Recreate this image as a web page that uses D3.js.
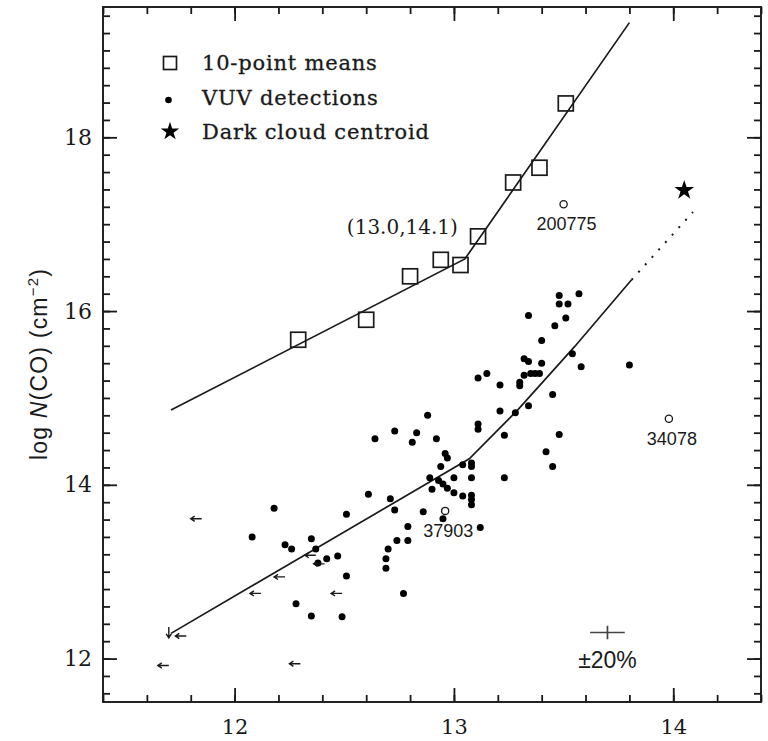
<!DOCTYPE html>
<html>
<head>
<meta charset="utf-8">
<script src="https://cdn.jsdelivr.net/npm/d3@7"></script>
<style>
  body { margin: 0; background: #fff; }
  svg { display: block; }
</style>
</head>
<body>
<div id="chart"></div>
<script>
// 10-point means (open squares)
const meanX = [12.29, 12.60, 12.80, 12.94, 13.03, 13.11, 13.27, 13.39, 13.51];
const meanY = [15.67, 15.90, 16.40, 16.59, 16.53, 16.86, 17.48, 17.65, 18.39];

// VUV detections (filled dots)
const vuvX = [13.48, 13.57, 13.48, 13.52, 13.34, 13.51, 13.46, 13.40, 13.54, 13.32,
  13.34, 13.40, 13.58, 13.80, 13.11, 13.15, 13.32, 13.35, 13.37, 13.39,
  13.30, 13.30, 13.21, 13.45, 13.21, 13.28, 13.34, 13.11, 13.11, 13.23,
  13.48, 13.42, 13.45, 12.73, 12.88, 12.83, 12.81, 12.92, 12.64, 12.96,
  12.97, 12.94, 13.04, 13.08, 13.08, 12.89, 12.93, 12.95, 12.97, 13.00,
  13.00, 13.08, 12.90, 13.04, 13.08, 13.08, 13.08, 13.23, 12.71, 12.73,
  12.86, 12.95, 12.79, 12.74, 12.79, 13.12, 12.70, 12.69, 12.69, 12.61,
  12.18, 12.51, 12.08, 12.23, 12.26, 12.35, 12.37, 12.47, 12.42, 12.38,
  12.51, 12.77, 12.28, 12.35, 12.49];
const vuvY = [16.18, 16.20, 16.08, 16.08, 15.95, 15.92, 15.83, 15.66, 15.51, 15.45,
  15.42, 15.40, 15.36, 15.38, 15.23, 15.28, 15.26, 15.28, 15.28, 15.28,
  15.18, 15.14, 15.15, 15.04, 14.85, 14.83, 14.91, 14.70, 14.64, 14.57,
  14.58, 14.38, 14.21, 14.62, 14.80, 14.60, 14.49, 14.53, 14.53, 14.36,
  14.31, 14.21, 14.23, 14.25, 14.21, 14.08, 14.05, 14.01, 13.96, 13.91,
  14.08, 14.08, 13.95, 13.87, 13.88, 13.83, 13.77, 14.08, 13.84, 13.71,
  13.69, 13.61, 13.52, 13.36, 13.36, 13.51, 13.26, 13.15, 13.04, 13.89,
  13.73, 13.66, 13.40, 13.31, 13.26, 13.38, 13.26, 13.18, 13.15, 13.10,
  12.95, 12.75, 12.63, 12.49, 12.48];

// upper limits in x (left arrows) and the one limit in y (down arrow)
const limitX = [11.85, 12.37, 12.41, 12.23, 12.12, 12.49, 11.78, 11.70, 12.30];
const limitY = [13.61, 13.19, 13.09, 12.94, 12.75, 12.75, 12.26, 11.92, 11.94];
const downLimitX = [11.70];
const downLimitY = [12.33];

// dark cloud centroid
const starX = [14.05];
const starY = [17.39];

// labelled stars (open circles)
const outlierNames = ["200775", "34078", "37903"];
const outlierX = [13.50, 13.98, 12.96];
const outlierY = [17.23, 14.76, 13.70];

// fitted relations
const upperFitX = [11.71, 13.05, 13.80];
const upperFitY = [14.86, 16.60, 19.32];
const lowerFitX = [11.71, 13.07, 13.29, 13.55, 13.81];
const lowerFitY = [12.29, 14.30, 14.86, 15.59, 16.36];
const extrapX = [13.81, 14.09];
const extrapY = [16.36, 17.14];

// typical error (+-20%)
const errX = 13.70, errY = 12.30, errHalf = 0.079;

const xMajor = [12, 13, 14];
const yMajor = [12, 14, 16, 18];
const xMinor = d3.range(11.4, 14.401, 0.2).map(v => +v.toFixed(1));
const yMinor = d3.range(11.6, 19.401, 0.2).map(v => +v.toFixed(1));

const legendItems = ["10-point means", "VUV detections", "Dark cloud centroid"];

const width = 768, height = 741;
const margin = { top: 7, right: 7, bottom: 39, left: 103 };
const iw = width - margin.left - margin.right;
const ih = height - margin.top - margin.bottom;

const x = d3.scaleLinear().domain([11.4, 14.4]).range([0, iw]);
const y = d3.scaleLinear().domain([11.5, 19.5]).range([ih, 0]);

const svg = d3.select('#chart').append('svg')
  .attr('width', width)
  .attr('height', height);

svg.append('rect').attr('width', width).attr('height', height).attr('fill', '#fff');

const g = svg.append('g').attr('transform', `translate(${margin.left},${margin.top})`);

const serif = '"DejaVu Serif", serif';
const sans = '"Liberation Sans", Arial, sans-serif';
const ink = '#1a1a1a';

// ticks on all four sides, pointing inward
function ticks(axisFn, scale, vals, size, transform) {
  const a = g.append('g')
    .attr('transform', transform)
    .call(axisFn(scale).tickValues(vals).tickSize(size).tickSizeOuter(0).tickFormat(''));
  a.select('.domain').remove();
  a.selectAll('line').attr('stroke', ink).attr('stroke-width', 1.8);
  return a;
}
ticks(d3.axisBottom, x, xMinor, -7, `translate(0,${ih})`);
ticks(d3.axisBottom, x, xMajor, -14, `translate(0,${ih})`);
ticks(d3.axisTop, x, xMinor, -7, 'translate(0,0)');
ticks(d3.axisTop, x, xMajor, -14, 'translate(0,0)');
ticks(d3.axisLeft, y, yMinor, -7, 'translate(0,0)');
ticks(d3.axisLeft, y, yMajor, -14, 'translate(0,0)');
ticks(d3.axisRight, y, yMinor, -7, `translate(${iw},0)`);
ticks(d3.axisRight, y, yMajor, -14, `translate(${iw},0)`);

// tick labels
const xl = g.append('g')
  .attr('transform', `translate(0,${ih})`)
  .call(d3.axisBottom(x).tickValues(xMajor).tickSize(0).tickPadding(17).tickFormat(d3.format('d')));
xl.select('.domain').remove();
xl.selectAll('text').attr('font-family', serif).attr('font-size', 21).attr('fill', ink);

const yl = g.append('g')
  .call(d3.axisLeft(y).tickValues(yMajor).tickSize(0).tickPadding(11).tickFormat(d3.format('d')));
yl.select('.domain').remove();
yl.selectAll('text').attr('font-family', serif).attr('font-size', 22).attr('fill', ink);

// frame
g.append('rect')
  .attr('width', iw).attr('height', ih)
  .attr('fill', 'none').attr('stroke', ink).attr('stroke-width', 1.9);

// y axis title
const yt = svg.append('text')
  .attr('transform', `translate(47,${364}) rotate(-90)`)
  .attr('text-anchor', 'middle')
  .attr('font-family', sans)
  .attr('font-size', 23)
  .attr('letter-spacing', 1.2)
  .attr('fill', ink);
yt.append('tspan').text('log ');
yt.append('tspan').attr('font-style', 'italic').text('N');
yt.append('tspan').text('(CO)  (cm');
yt.append('tspan').attr('font-size', 15).attr('dy', -9).text('−2');
yt.append('tspan').attr('dy', 9).text(')');

// fitted lines
const line = d3.line().x(d => x(d[0])).y(d => y(d[1]));
g.append('path')
  .datum(d3.zip(upperFitX, upperFitY))
  .attr('d', line).attr('fill', 'none').attr('stroke', ink).attr('stroke-width', 1.7);
g.append('path')
  .datum(d3.zip(lowerFitX, lowerFitY))
  .attr('d', line).attr('fill', 'none').attr('stroke', ink).attr('stroke-width', 1.7);
g.append('path')
  .datum(d3.zip(extrapX, extrapY))
  .attr('d', line).attr('fill', 'none').attr('stroke', ink).attr('stroke-width', 2)
  .attr('stroke-dasharray', '2,8');

// 10-point means
const sq = 15;
g.selectAll('.mean')
  .data(d3.zip(meanX, meanY))
  .enter().append('rect')
  .attr('class', 'mean')
  .attr('x', d => x(d[0]) - sq / 2)
  .attr('y', d => y(d[1]) - sq / 2)
  .attr('width', sq).attr('height', sq)
  .attr('fill', 'none').attr('stroke', ink).attr('stroke-width', 1.7);

// VUV detections
g.selectAll('.dot')
  .data(d3.zip(vuvX, vuvY))
  .enter().append('circle')
  .attr('class', 'dot')
  .attr('cx', d => x(d[0]))
  .attr('cy', d => y(d[1]))
  .attr('r', 3.5)
  .attr('fill', '#000');

// upper limits
g.selectAll('.limit')
  .data(d3.zip(limitX, limitY))
  .enter().append('path')
  .attr('class', 'limit')
  .attr('d', d => {
    const px = x(d[0]), py = y(d[1]);
    return `M${px},${py}H${px - 11}M${px - 7},${py - 2.6}L${px - 11},${py}L${px - 7},${py + 2.6}`;
  })
  .attr('fill', 'none').attr('stroke', ink).attr('stroke-width', 1.4);
g.selectAll('.dlimit')
  .data(d3.zip(downLimitX, downLimitY))
  .enter().append('path')
  .attr('class', 'dlimit')
  .attr('d', d => {
    const px = x(d[0]), py = y(d[1]);
    return `M${px},${py - 3}V${py + 8}M${px - 2.6},${py + 4}L${px},${py + 8}L${px + 2.6},${py + 4}`;
  })
  .attr('fill', 'none').attr('stroke', ink).attr('stroke-width', 1.4);

// open circles with HD numbers
const outliers = outlierNames.map((n, i) => ({ name: n, x: outlierX[i], y: outlierY[i] }));
g.selectAll('.outlier')
  .data(outliers)
  .enter().append('circle')
  .attr('class', 'outlier')
  .attr('cx', d => x(d.x)).attr('cy', d => y(d.y))
  .attr('r', 3.6)
  .attr('fill', '#fff').attr('stroke', ink).attr('stroke-width', 1.3);
g.selectAll('.outlier-label')
  .data(outliers)
  .enter().append('text')
  .attr('class', 'outlier-label')
  .attr('x', d => x(d.x) + 3)
  .attr('y', d => y(d.y) + 26)
  .attr('text-anchor', 'middle')
  .attr('font-family', sans).attr('font-size', 18).attr('fill', ink)
  .text(d => d.name);

// dark cloud centroid
const star = d3.symbol().type(d3.symbolStar);
g.selectAll('.star')
  .data(d3.zip(starX, starY))
  .enter().append('path')
  .attr('class', 'star')
  .attr('transform', d => `translate(${x(d[0])},${y(d[1])})`)
  .attr('d', star.size(120)())
  .attr('fill', '#000');

// break point annotation near the upper kink
g.append('text')
  .attr('x', x(upperFitX[1]) - 7)
  .attr('y', y(upperFitY[1]) - 25)
  .attr('text-anchor', 'end')
  .attr('font-family', serif).attr('font-size', 20).attr('fill', ink)
  .text('(13.0,14.1)');

// typical error cross
g.append('path')
  .attr('d', `M${x(errX - errHalf)},${y(errY)}H${x(errX + errHalf)}M${x(errX)},${y(errY + errHalf)}V${y(errY - errHalf)}`)
  .attr('fill', 'none').attr('stroke', '#444').attr('stroke-width', 1.7);
g.append('text')
  .attr('x', x(errX))
  .attr('y', y(errY) + 35)
  .attr('text-anchor', 'middle')
  .attr('font-family', sans).attr('font-size', 23).attr('fill', ink)
  .text('±20%');

// legend
const lg = svg.append('g').attr('transform', 'translate(170,63)');
const rowH = 34.5;
lg.append('rect').attr('x', -6.5).attr('y', -6.5).attr('width', 13).attr('height', 13)
  .attr('fill', 'none').attr('stroke', ink).attr('stroke-width', 1.7);
lg.append('circle').attr('cx', -1.5).attr('cy', rowH + 2.5).attr('r', 3.3).attr('fill', '#000');
lg.append('path').attr('transform', `translate(0,${2 * rowH - 0.5})`)
  .attr('d', star.size(105)()).attr('fill', '#000');
lg.selectAll('.legend-text')
  .data(legendItems)
  .enter().append('text')
  .attr('class', 'legend-text')
  .attr('x', 32)
  .attr('y', (d, i) => i * rowH + 7)
  .attr('font-family', serif).attr('font-size', 21)
  .attr('letter-spacing', 0.8)
  .attr('fill', ink)
  .attr('stroke', ink).attr('stroke-width', 0.3)
  .text(d => d);
</script>
</body>
</html>
